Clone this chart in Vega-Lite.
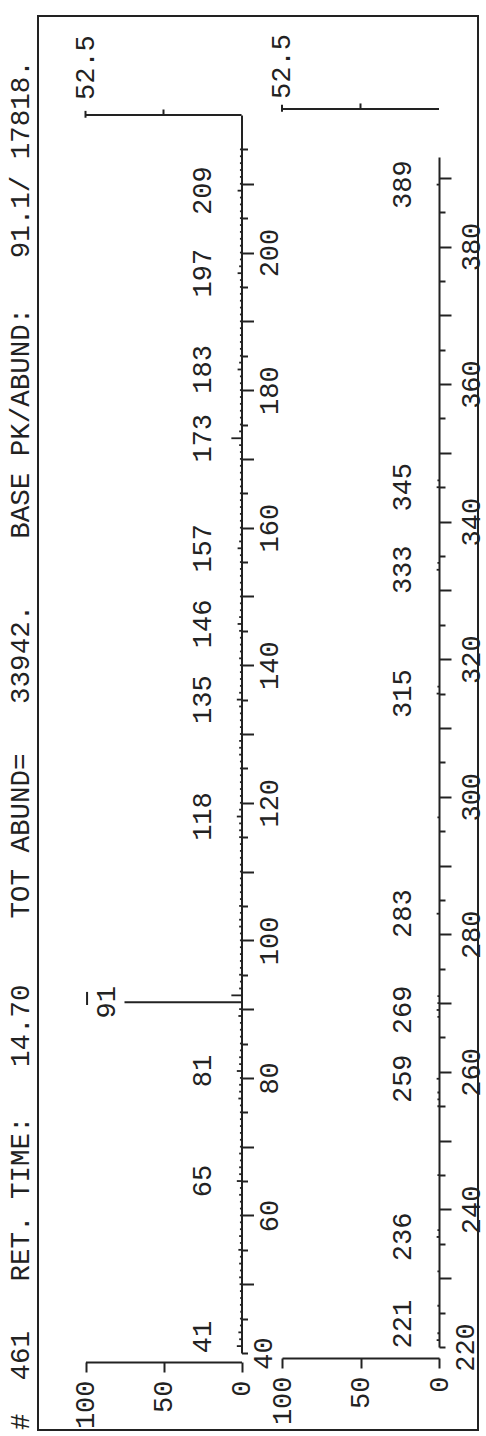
{
 "$schema": "https://vega.github.io/schema/vega-lite/v6.json",
 "width": 440,
 "height": 1414,
 "autosize": {"type": "none"},
 "padding": {"left": 38, "top": 16, "right": 8, "bottom": 6},
 "background": "white",
 "title": {
  "text": "#\u00a0\u00a0461\u00a0\u00a0\u00a0RET.\u00a0TIME:\u00a0\u00a0\u00a014.70\u00a0\u00a0\u00a0\u00a0TOT\u00a0ABUND=\u00a0\u00a0\u00a033942.\u00a0\u00a0\u00a0\u00a0BASE\u00a0PK/ABUND:\u00a0\u00a0\u00a091.1/\u00a017818.",
  "orient": "left",
  "anchor": "start",
  "frame": "group",
  "font": "Liberation Mono",
  "fontSize": 27.5,
  "fontWeight": "normal",
  "color": "#222",
  "offset": 4
 },
 "datasets": {
  "p1": [
   {"mz":41,"i":3},{"mz":42,"i":1.5},{"mz":43,"i":2},{"mz":44,"i":1},{"mz":45,"i":1},{"mz":46,"i":0.8},{"mz":47,"i":1},{"mz":48,"i":0.8},{"mz":49,"i":1},{"mz":50,"i":1.2},
   {"mz":51,"i":1.5},{"mz":52,"i":1},{"mz":53,"i":1.5},{"mz":54,"i":1},{"mz":55,"i":2},{"mz":56,"i":1},{"mz":57,"i":1.5},{"mz":58,"i":1},{"mz":59,"i":1},{"mz":60,"i":1},
   {"mz":61,"i":1},{"mz":62,"i":1},{"mz":63,"i":1.5},{"mz":64,"i":1},{"mz":65,"i":3},{"mz":66,"i":1.5},{"mz":67,"i":1.5},{"mz":68,"i":1},{"mz":69,"i":1.5},{"mz":70,"i":1},
   {"mz":71,"i":1},{"mz":72,"i":1},{"mz":73,"i":1},{"mz":74,"i":1},{"mz":75,"i":1},{"mz":76,"i":1},{"mz":77,"i":2},{"mz":78,"i":1.5},{"mz":79,"i":1.5},{"mz":80,"i":1},
   {"mz":81,"i":3},{"mz":82,"i":1.5},{"mz":83,"i":1.5},{"mz":84,"i":1},{"mz":85,"i":1},{"mz":86,"i":1},{"mz":87,"i":1},{"mz":88,"i":1},{"mz":89,"i":2},{"mz":90,"i":1.5},
   {"mz":91,"i":75},{"mz":92,"i":6.5},{"mz":93,"i":1.5},{"mz":94,"i":1},{"mz":95,"i":1.5},{"mz":96,"i":1},{"mz":97,"i":1},{"mz":98,"i":1},{"mz":99,"i":1},{"mz":100,"i":1},
   {"mz":101,"i":1},{"mz":102,"i":1.5},{"mz":103,"i":1.5},{"mz":104,"i":1},{"mz":105,"i":1.5},{"mz":106,"i":1},{"mz":107,"i":1},{"mz":108,"i":1},{"mz":109,"i":1},{"mz":110,"i":1},
   {"mz":111,"i":1},{"mz":112,"i":1},{"mz":113,"i":1},{"mz":114,"i":1},{"mz":115,"i":1.5},{"mz":116,"i":1.5},{"mz":117,"i":1.5},{"mz":118,"i":3},{"mz":119,"i":1.5},{"mz":120,"i":1},
   {"mz":121,"i":1},{"mz":122,"i":1},{"mz":123,"i":1},{"mz":124,"i":1},{"mz":125,"i":1},{"mz":126,"i":1},{"mz":127,"i":1.5},{"mz":128,"i":1.5},{"mz":129,"i":1.5},{"mz":130,"i":1},
   {"mz":131,"i":1},{"mz":132,"i":1},{"mz":133,"i":1},{"mz":134,"i":1.5},{"mz":135,"i":3},{"mz":136,"i":1.5},{"mz":137,"i":1},{"mz":138,"i":1},{"mz":139,"i":1},{"mz":140,"i":1},
   {"mz":141,"i":1.5},{"mz":142,"i":1},{"mz":143,"i":1},{"mz":144,"i":1},{"mz":145,"i":1.5},{"mz":146,"i":2.5},{"mz":147,"i":1.5},{"mz":148,"i":1},{"mz":149,"i":1},{"mz":150,"i":1},
   {"mz":151,"i":1},{"mz":152,"i":1},{"mz":153,"i":1},{"mz":154,"i":1},{"mz":155,"i":1},{"mz":156,"i":1},{"mz":157,"i":2.5},{"mz":158,"i":1.5},{"mz":159,"i":1},{"mz":160,"i":1},
   {"mz":161,"i":1},{"mz":162,"i":1},{"mz":163,"i":1},{"mz":164,"i":1},{"mz":165,"i":1},{"mz":166,"i":1},{"mz":167,"i":1},{"mz":168,"i":1},{"mz":169,"i":1},{"mz":170,"i":1},
   {"mz":171,"i":1},{"mz":172,"i":1.5},{"mz":173,"i":6.5},{"mz":174,"i":1.5},{"mz":175,"i":1},{"mz":176,"i":1},{"mz":177,"i":1},{"mz":178,"i":1},{"mz":179,"i":1},{"mz":180,"i":1},
   {"mz":181,"i":1},{"mz":182,"i":1},{"mz":183,"i":2.5},{"mz":184,"i":1.5},{"mz":185,"i":1},{"mz":186,"i":1},{"mz":187,"i":1},{"mz":188,"i":1},{"mz":189,"i":1},{"mz":190,"i":1},
   {"mz":191,"i":1},{"mz":192,"i":1},{"mz":193,"i":1},{"mz":194,"i":1},{"mz":195,"i":1},{"mz":196,"i":1},{"mz":197,"i":2.5},{"mz":198,"i":1.5},{"mz":199,"i":1},{"mz":200,"i":1},
   {"mz":201,"i":1},{"mz":202,"i":1},{"mz":203,"i":1},{"mz":204,"i":1},{"mz":205,"i":1},{"mz":206,"i":1},{"mz":207,"i":1},{"mz":208,"i":1},{"mz":209,"i":2.5},{"mz":210,"i":1},
   {"mz":211,"i":1},{"mz":212,"i":1},{"mz":213,"i":1},{"mz":214,"i":1},{"mz":215,"i":1}
  ],
  "p2": [
   {"mz":221,"i":1.5},{"mz":222,"i":1},{"mz":226,"i":1},{"mz":231,"i":1},{"mz":236,"i":1.5},{"mz":237,"i":1},{"mz":245,"i":1},{"mz":255,"i":1},{"mz":256,"i":1},{"mz":257,"i":1},
   {"mz":259,"i":1.5},{"mz":268,"i":1},{"mz":269,"i":1.5},{"mz":270,"i":1},{"mz":271,"i":1},{"mz":283,"i":1.5},{"mz":297,"i":1},{"mz":315,"i":1.5},{"mz":316,"i":1},{"mz":333,"i":1.5},
   {"mz":334,"i":1},{"mz":345,"i":1.5},{"mz":346,"i":1},{"mz":389,"i":1.5}
  ],
  "l1": [
   {"mz":41,"label":"41"},{"mz":65,"label":"65"},{"mz":81,"label":"81"},{"mz":118,"label":"118"},{"mz":135,"label":"135"},{"mz":146,"label":"146"},
   {"mz":157,"label":"157"},{"mz":173,"label":"173"},{"mz":183,"label":"183"},{"mz":197,"label":"197"},{"mz":209,"label":"209"}
  ],
  "l2": [
   {"mz":221,"label":"221"},{"mz":236,"label":"236"},{"mz":259,"label":"259"},{"mz":269,"label":"269"},{"mz":283,"label":"283"},{"mz":315,"label":"315"},
   {"mz":333,"label":"333"},{"mz":345,"label":"345"},{"mz":389,"label":"389"}
  ],
  "basepk": [{"mz":91,"label":"91"}],
  "fullscale": [{"label":"52.5"}]
 },
 "layer": [
  {
   "layer": [
    {"data": {"name": "p1"}, "mark": {"type": "rule", "color": "#222", "strokeWidth": 1.8},
     "encoding": {
      "y": {"field": "mz", "type": "quantitative",
       "scale": {"domain": [40, 220], "range": [1337, 99], "nice": false, "zero": false},
       "axis": {"orient": "right", "offset": -236.5,
        "values": [40,45,50,55,60,65,70,75,80,85,90,95,100,105,110,115,120,125,130,135,140,145,150,155,160,165,170,175,180,185,190,195,200,205,210,215],
        "domain": true, "domainColor": "#222", "domainWidth": 2,
        "ticks": true, "tickColor": "#222", "tickWidth": 2,
        "tickSize": {"condition": {"test": "datum.value % 10 === 0 && datum.value !== 40", "value": 12}, "value": 6},
        "labelExpr": "datum.value % 20 === 0 ? datum.label : ''",
        "labelAngle": 270, "labelAlign": "center", "labelBaseline": "top", "labelPadding": 3,
        "labelFont": "Liberation Mono", "labelFontSize": 27, "labelColor": "#222",
        "labelOverlap": false, "labelBound": false, "labelFlush": false, "grid": false, "title": null}
      },
      "x": {"field": "i", "type": "quantitative",
       "scale": {"domain": [0, 100], "range": [203.5, 47.5], "nice": false, "zero": false},
       "axis": {"orient": "bottom", "offset": -68, "values": [0, 50, 100],
        "domain": true, "domainColor": "#222", "domainWidth": 2,
        "ticks": true, "tickColor": "#222", "tickWidth": 2, "tickSize": 10,
        "labelAngle": 270, "labelAlign": "right", "labelBaseline": "middle", "labelPadding": 8,
        "labelFont": "Liberation Mono", "labelFontSize": 27, "labelColor": "#222",
        "labelOverlap": false, "labelBound": false, "labelFlush": false, "grid": false, "title": null}
      },
      "x2": {"datum": 0}
     }},
    {"data": {"name": "l1"}, "transform": [{"filter": "datum.mz > 45"}],
     "mark": {"type": "text", "angle": 270, "align": "center", "baseline": "middle", "font": "Liberation Mono", "fontSize": 27, "color": "#222"},
     "encoding": {"y": {"field": "mz", "type": "quantitative"}, "x": {"datum": 25}, "text": {"field": "label"}}},
    {"data": {"name": "l1"}, "transform": [{"filter": "datum.mz < 45"}],
     "mark": {"type": "text", "angle": 270, "align": "center", "baseline": "middle", "font": "Liberation Mono", "fontSize": 27, "color": "#222", "dx": 9},
     "encoding": {"y": {"field": "mz", "type": "quantitative"}, "x": {"datum": 25}, "text": {"field": "label"}}},
    {"data": {"name": "basepk"},
     "mark": {"type": "text", "angle": 270, "align": "center", "baseline": "middle", "font": "Liberation Mono", "fontSize": 27, "color": "#222"},
     "encoding": {"y": {"field": "mz", "type": "quantitative"}, "x": {"datum": 86}, "text": {"field": "label"}}},
    {"data": {"name": "basepk"}, "mark": {"type": "rule", "color": "#222", "strokeWidth": 2},
     "encoding": {"x": {"datum": 99}, "y": {"datum": 90.6}, "y2": {"datum": 92.5}}},
    {"data": {"name": "fullscale"}, "mark": {"type": "rule", "color": "#222", "strokeWidth": 2},
     "encoding": {"x": {"datum": 0}, "x2": {"datum": 100}, "y": {"datum": 220}}},
    {"data": {"name": "fullscale"}, "mark": {"type": "rule", "color": "#222", "strokeWidth": 2},
     "encoding": {"x": {"datum": 50}, "y": {"datum": 220}, "y2": {"datum": 220.8}}},
    {"data": {"name": "fullscale"}, "mark": {"type": "rule", "color": "#222", "strokeWidth": 2},
     "encoding": {"x": {"datum": 100}, "y": {"datum": 219.6}, "y2": {"datum": 220.6}}},
    {"data": {"name": "fullscale"},
     "mark": {"type": "text", "angle": 270, "align": "left", "baseline": "middle", "font": "Liberation Mono", "fontSize": 27, "color": "#222", "dx": 15},
     "encoding": {"x": {"datum": 100}, "y": {"datum": 220}, "text": {"field": "label"}}}
   ]
  },
  {
   "layer": [
    {"data": {"name": "p2"}, "mark": {"type": "rule", "color": "#222", "strokeWidth": 1.8},
     "encoding": {
      "y": {"field": "mz", "type": "quantitative",
       "scale": {"domain": [220, 393], "range": [1331, 141.1], "nice": false, "zero": false},
       "axis": {"orient": "right", "offset": -39,
        "values": [220,225,230,235,240,245,250,255,260,265,270,275,280,285,290,295,300,305,310,315,320,325,330,335,340,345,350,355,360,365,370,375,380,385,390],
        "domain": true, "domainColor": "#222", "domainWidth": 2,
        "ticks": true, "tickColor": "#222", "tickWidth": 2,
        "tickSize": {"condition": {"test": "datum.value % 10 === 0 && datum.value !== 220", "value": 12}, "value": 6},
        "labelExpr": "datum.value % 20 === 0 ? datum.label : ''",
        "labelAngle": 270, "labelAlign": "center", "labelBaseline": "top", "labelPadding": 7,
        "labelFont": "Liberation Mono", "labelFontSize": 27, "labelColor": "#222",
        "labelOverlap": false, "labelBound": false, "labelFlush": false, "grid": false, "title": null}
      },
      "x": {"field": "i", "type": "quantitative",
       "scale": {"domain": [0, 100], "range": [401, 244], "nice": false, "zero": false},
       "axis": {"orient": "bottom", "offset": -72, "values": [0, 50, 100],
        "domain": true, "domainColor": "#222", "domainWidth": 2,
        "ticks": true, "tickColor": "#222", "tickWidth": 2, "tickSize": 10,
        "labelAngle": 270, "labelAlign": "right", "labelBaseline": "middle", "labelPadding": 8,
        "labelFont": "Liberation Mono", "labelFontSize": 27, "labelColor": "#222",
        "labelOverlap": false, "labelBound": false, "labelFlush": false, "grid": false, "title": null}
      },
      "x2": {"datum": 0}
     }},
    {"data": {"name": "l2"}, "transform": [{"filter": "datum.mz > 225"}],
     "mark": {"type": "text", "angle": 270, "align": "center", "baseline": "middle", "font": "Liberation Mono", "fontSize": 27, "color": "#222"},
     "encoding": {"y": {"field": "mz", "type": "quantitative"}, "x": {"datum": 23}, "text": {"field": "label"}}},
    {"data": {"name": "l2"}, "transform": [{"filter": "datum.mz < 225"}],
     "mark": {"type": "text", "angle": 270, "align": "center", "baseline": "middle", "font": "Liberation Mono", "fontSize": 27, "color": "#222", "dx": 16},
     "encoding": {"y": {"field": "mz", "type": "quantitative"}, "x": {"datum": 23}, "text": {"field": "label"}}},
    {"data": {"name": "fullscale"}, "mark": {"type": "rule", "color": "#222", "strokeWidth": 2},
     "encoding": {"x": {"datum": 0}, "x2": {"datum": 100}, "y": {"datum": 400}}},
    {"data": {"name": "fullscale"}, "mark": {"type": "rule", "color": "#222", "strokeWidth": 2},
     "encoding": {"x": {"datum": 50}, "y": {"datum": 400}, "y2": {"datum": 400.8}}},
    {"data": {"name": "fullscale"}, "mark": {"type": "rule", "color": "#222", "strokeWidth": 2},
     "encoding": {"x": {"datum": 100}, "y": {"datum": 399.6}, "y2": {"datum": 400.6}}},
    {"data": {"name": "fullscale"},
     "mark": {"type": "text", "angle": 270, "align": "left", "baseline": "middle", "font": "Liberation Mono", "fontSize": 27, "color": "#222", "dx": 10},
     "encoding": {"x": {"datum": 100}, "y": {"datum": 400}, "text": {"field": "label"}}}
   ]
  }
 ],
 "resolve": {
  "scale": {"x": "independent", "y": "independent"},
  "axis": {"x": "independent", "y": "independent"}
 },
 "config": {
  "view": {"stroke": "#222", "strokeWidth": 2},
  "font": "Liberation Mono"
 }
}
